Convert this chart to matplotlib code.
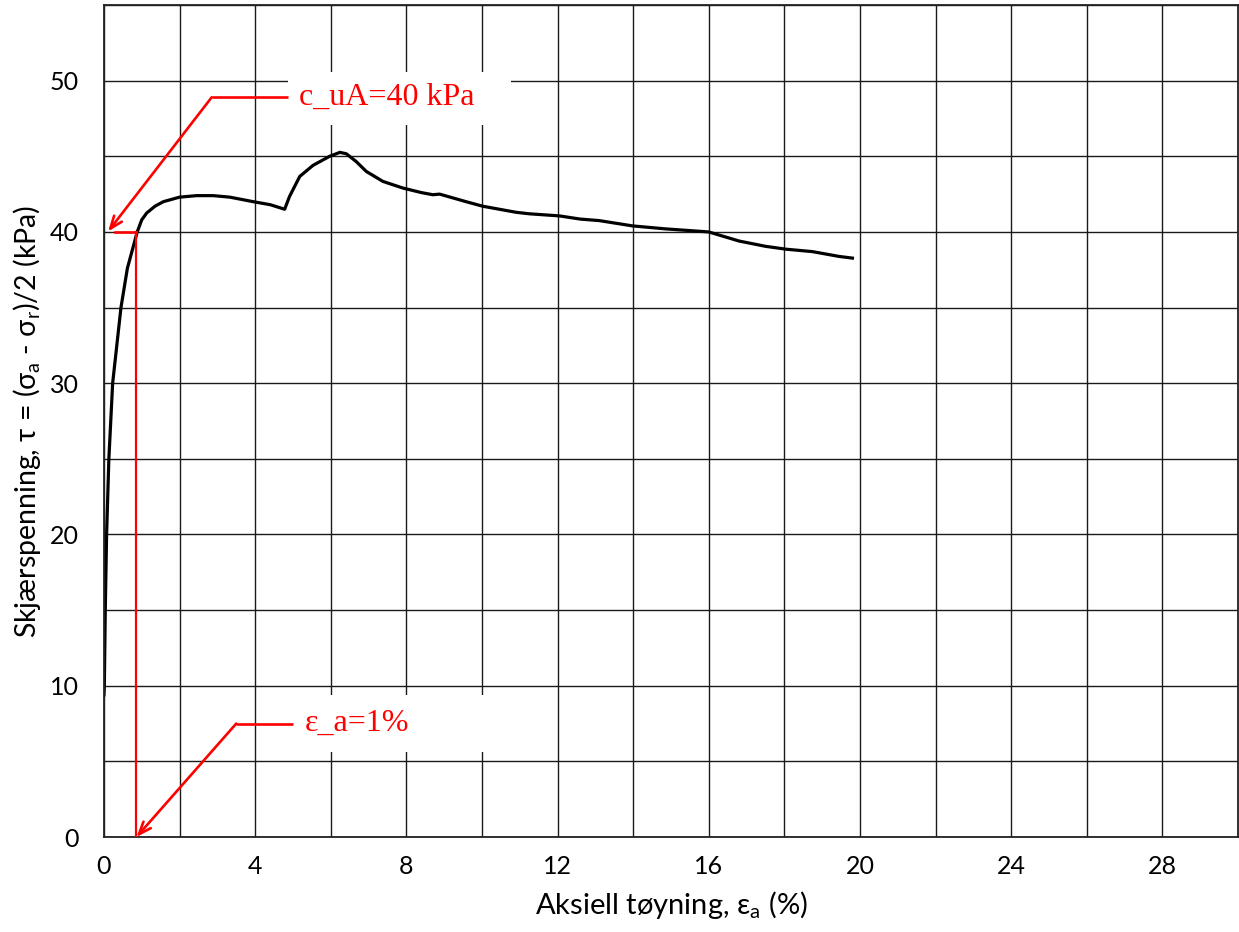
import matplotlib
matplotlib.use("Agg")
import matplotlib.pyplot as plt
from matplotlib.patches import Rectangle
from matplotlib.ticker import MultipleLocator

# shear stress curve
strain = [0.0, 0.01, 0.035, 0.07, 0.13, 0.23, 0.45, 0.62, 0.88, 1.0, 1.13, 1.35,
          1.57, 2.0, 2.45, 2.89, 3.33, 3.95, 4.4, 4.78, 4.91, 5.18, 5.53, 5.97,
          6.24, 6.41, 6.67, 6.94, 7.38, 7.91, 8.4, 8.7, 8.88, 9.58, 10.02, 10.9,
          11.25, 12.05, 12.6, 13.1, 13.63, 13.98, 14.87, 16.0, 16.8, 17.5, 18.04,
          18.74, 19.45, 19.8]
tau = [9.4, 10.0, 15.0, 20.0, 25.0, 30.0, 35.0, 37.6, 40.0, 40.8, 41.25, 41.7,
       42.0, 42.3, 42.4, 42.4, 42.3, 42.0, 41.8, 41.5, 42.35, 43.67, 44.4, 45.0,
       45.26, 45.17, 44.66, 44.0, 43.34, 42.9, 42.6, 42.46, 42.5, 42.0, 41.7, 41.3,
       41.2, 41.06, 40.85, 40.75, 40.54, 40.4, 40.2, 40.0, 39.4, 39.05, 38.86,
       38.7, 38.38, 38.27]

cu_value = 40.0      # kPa
eps_value = 0.86     # strain where tau reaches cu (drawn position)
cu_label = "c_uA=40 kPa"
eps_label = "\u03b5_a=1%"

plt.rcParams['font.family'] = ['Lato', 'DejaVu Sans']
plt.rcParams['mathtext.fontset'] = 'custom'
plt.rcParams['mathtext.rm'] = 'Lato'

RED = '#ff0000'


def add_callout(ax, label, elbow, end, tip, box):
  # white box behind the text, elbow line and arrow like the excel shapes
  bx0, by0, bx1, by1 = box
  ax.add_patch(Rectangle((bx0, by0), bx1 - bx0, by1 - by0, facecolor='white',
                         edgecolor='none', zorder=1))
  ax.plot([elbow[0], end[0]], [elbow[1], end[1]], color=RED, lw=1.9, zorder=3,
          solid_capstyle='butt')
  ax.annotate('', xy=tip, xytext=elbow,
              arrowprops=dict(arrowstyle='->,head_length=0.9,head_width=0.35',
                              color=RED, lw=1.9, shrinkA=0, shrinkB=0), zorder=3)
  ax.text(end[0] + 0.3, end[1], label, color=RED, fontsize=23,
          family='Liberation Serif', ha='left', va='center', zorder=4)


fig = plt.figure(figsize=(12.39, 9.32), dpi=100)
ax = fig.add_axes([0.0839, 0.1019, 0.9153, 0.8927])

ax.plot(strain, tau, color='black', lw=2.3, zorder=2)

# reading lines for cu and strain
ax.plot([0.3, eps_value], [cu_value, cu_value], color=RED, lw=1.9, zorder=3)
ax.plot([eps_value, eps_value], [cu_value, 0], color=RED, lw=1.6, zorder=3)

add_callout(ax, cu_label, (2.85, 48.9), (4.87, 48.9), (0.11, 40.03),
            (4.86, 47.1, 10.78, 50.6))
add_callout(ax, eps_label, (3.5, 7.5), (5.0, 7.5), (eps_value, 0.0),
            (5.05, 5.62, 10.9, 9.39))

ax.set_xlim(0, 30)
ax.set_ylim(0, 55)
ax.xaxis.set_major_locator(MultipleLocator(4))
ax.xaxis.set_minor_locator(MultipleLocator(2))
ax.yaxis.set_major_locator(MultipleLocator(10))
ax.yaxis.set_minor_locator(MultipleLocator(5))
ax.set_xticks([0, 4, 8, 12, 16, 20, 24, 28])
ax.set_axisbelow(True)
ax.grid(True, which='both', color='#1a1a1a', lw=1.0)
ax.tick_params(which='both', length=0, labelsize=18)
ax.tick_params(axis='y', pad=18)
ax.tick_params(axis='x', pad=13)
for s in ax.spines.values():
  s.set_linewidth(1.3)
  s.set_color('#222222')

ax.set_xlabel('Aksiell tøyning, \u03b5$_\\mathrm{a}$ (%)', fontsize=21, labelpad=8)
ax.set_ylabel('Skjærspenning, \u03c4 = (\u03c3$_\\mathrm{a}$ - \u03c3$_\\mathrm{r}$)/2 (kPa)',
              fontsize=20.5, labelpad=5)

fig.savefig('out.png', dpi=100)
